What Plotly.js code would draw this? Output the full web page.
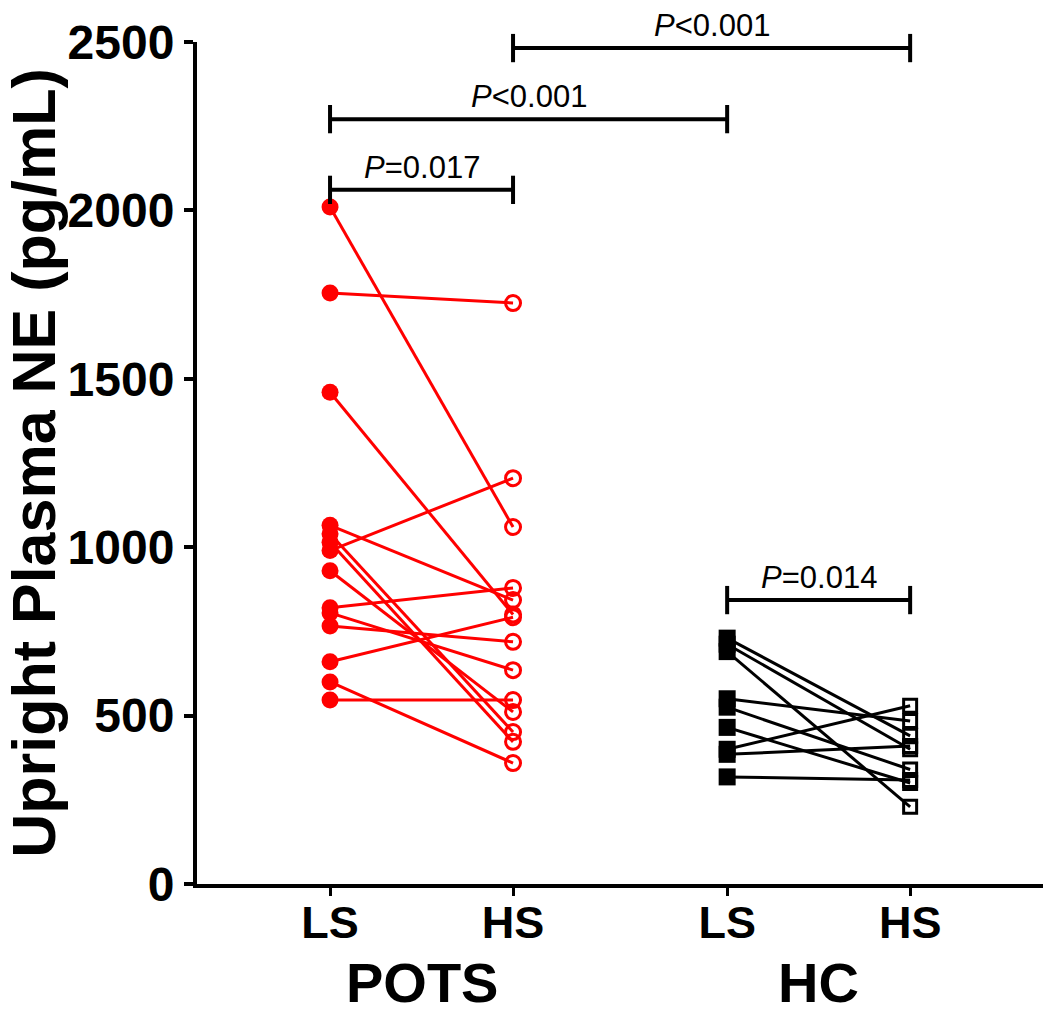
<!DOCTYPE html>
<html>
<head>
<meta charset="utf-8">
<script src="https://cdn.plot.ly/plotly-3.0.1.min.js"></script>
<style>html,body{margin:0;padding:0;background:#fff;}#chart{width:1050px;height:1015px;}</style>
</head>
<body>
<div id="chart"></div>
<script>
// ---- data ----
const categoryPos = [1, 2, 3.17, 4.17];
const tickLabels = ['LS', 'HS', 'LS', 'HS'];
const groupLabels = ['POTS', 'HC'];
const groupCenters = [1.5, 3.67];

// POTS patients: low-salt (LS) and high-salt (HS) upright plasma NE, pg/mL (paired)
const potsLS = [2010, 1755, 1460, 1065, 1040, 1015, 990, 930, 820, 805, 766, 660, 600, 546];
const potsHS = [1060, 1725, 800, 843, 451, 422, 1205, 511, 879, 635, 719, 792, 359, 546];

// Healthy controls (paired)
const hcLS = [730, 712, 690, 550, 525, 465, 400, 385, 318];
const hcHS = [440, 400, 229, 484, 340, 300, 529, 410, 309];

// significance brackets
const bracketFrom = [0, 0, 1, 2];
const bracketTo = [1, 2, 3, 3];
const bracketLevel = [2061, 2271, 2482, 843];
const bracketText = ['<i>P</i>=0.017', '<i>P</i><0.001', '<i>P</i><0.001', '<i>P</i>=0.014'];

const yMax = 2500;
const yTicks = [0, 500, 1000, 1500, 2000, 2500];

// ---- build ----
const RED = '#ff0000';
const FONT = 'Liberation Sans, Arial, Helvetica, sans-serif';
const traces = [];
for (let i = 0; i < potsLS.length; i++) {
  traces.push({
    type: 'scatter', mode: 'lines+markers',
    x: [categoryPos[0], categoryPos[1]], y: [potsLS[i], potsHS[i]],
    line: {color: RED, width: 3},
    marker: {symbol: ['circle', 'circle-open'], size: [17, 15], opacity: 1, color: RED,
             line: {color: RED, width: [0, 3]}},
    showlegend: false, hoverinfo: 'y'
  });
}
for (let i = 0; i < hcLS.length; i++) {
  traces.push({
    type: 'scatter', mode: 'lines+markers',
    x: [categoryPos[2], categoryPos[3]], y: [hcLS[i], hcHS[i]],
    line: {color: '#000', width: 3},
    marker: {symbol: ['square', 'square-open'], size: [17, 13], opacity: 1, color: '#000',
             line: {color: '#000', width: [0, 3]}},
    showlegend: false, hoverinfo: 'y'
  });
}

const shapes = [];
const annotations = [];
const tickHalf = 42;
for (let k = 0; k < bracketLevel.length; k++) {
  const xa = categoryPos[bracketFrom[k]], xb = categoryPos[bracketTo[k]];
  const lv = bracketLevel[k];
  const ln = {color: '#000', width: 4};
  shapes.push({type: 'line', xref: 'x', yref: 'paper', x0: xa, x1: xb, y0: lv / yMax, y1: lv / yMax, line: ln});
  shapes.push({type: 'line', xref: 'x', yref: 'paper', x0: xa, x1: xa, y0: (lv - tickHalf) / yMax, y1: (lv + tickHalf) / yMax, line: ln});
  shapes.push({type: 'line', xref: 'x', yref: 'paper', x0: xb, x1: xb, y0: (lv - tickHalf) / yMax, y1: (lv + tickHalf) / yMax, line: ln});
  annotations.push({
    xref: 'x', yref: 'paper', x: (xa + xb) / 2, y: lv / yMax, yanchor: 'bottom', xanchor: 'center',
    yshift: 3, showarrow: false, text: bracketText[k],
    font: {family: FONT, size: 31, color: '#000'}
  });
}
for (let g = 0; g < groupLabels.length; g++) {
  annotations.push({
    xref: 'x', yref: 'paper', x: groupCenters[g], y: -0.1175, yanchor: 'middle', xanchor: 'center',
    showarrow: false, text: groupLabels[g],
    font: {family: FONT, size: 56, color: '#000', weight: 'bold'}
  });
}

const layout = {
  width: 1050, height: 1015,
  margin: {l: 197, r: 7, t: 42, b: 131},
  paper_bgcolor: '#fff', plot_bgcolor: '#fff',
  font: {family: FONT, color: '#000'},
  showlegend: false,
  xaxis: {
    range: [0.273, 4.896], tickvals: categoryPos, ticktext: tickLabels,
    ticks: 'outside', ticklen: 8, tickwidth: 3, tickcolor: '#000', ticklabelstandoff: -12,
    showline: true, linewidth: 4, linecolor: '#000', showgrid: false, zeroline: false,
    tickfont: {family: FONT, size: 45, color: '#000', weight: 'bold'}
  },
  yaxis: {
    range: [0, yMax], tickvals: yTicks,
    ticks: 'outside', ticklen: 9, tickwidth: 4, tickcolor: '#000',
    showline: true, linewidth: 4, linecolor: '#000', showgrid: false, zeroline: false,
    tickfont: {family: FONT, size: 48, color: '#000', weight: 'bold'},
    title: {text: 'Upright Plasma NE (pg/mL)', standoff: 10, font: {family: FONT, size: 61, color: '#000', weight: 'bold'}}
  },
  shapes: shapes,
  annotations: annotations
};

Plotly.newPlot('chart', traces, layout, {staticPlot: true, displayModeBar: false});
</script>
</body>
</html>
